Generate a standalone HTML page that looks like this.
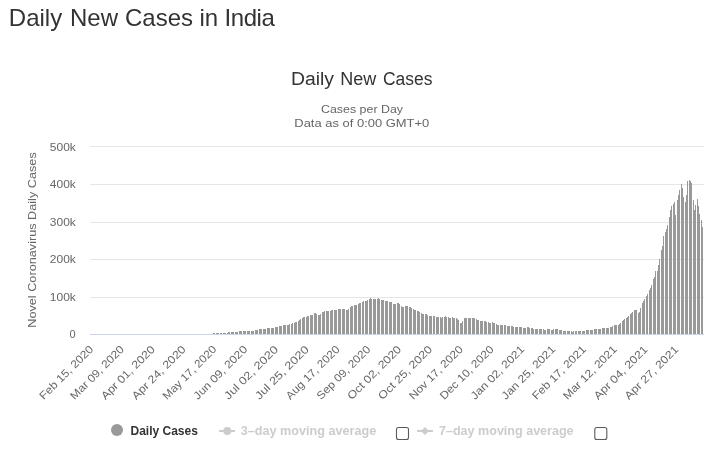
<!DOCTYPE html>
<html><head><meta charset="utf-8"><style>
html,body{margin:0;padding:0;background:#fff;width:716px;height:458px;overflow:hidden}
svg{position:absolute;left:0;top:0;will-change:transform;font-family:"Liberation Sans",sans-serif}
</style></head><body>
<svg width="716" height="458" viewBox="0 0 716 458">
<rect width="716" height="458" fill="#fff"/>
<text y="26" font-size="24" fill="#333"><tspan x="8.8">Daily</tspan><tspan x="70">New</tspan><tspan x="125">Cases</tspan><tspan x="199.4">in</tspan><tspan x="224.6" letter-spacing="-0.45">India</tspan></text>
<g font-size="18" fill="#333"><text x="291" y="84.6" textLength="43" lengthAdjust="spacingAndGlyphs">Daily</text><text x="340.2" y="84.6" textLength="36" lengthAdjust="spacingAndGlyphs">New</text><text x="383" y="84.6" textLength="49.5" lengthAdjust="spacingAndGlyphs">Cases</text></g>
<text x="321" y="112.8" font-size="11.5" fill="#666" textLength="82" lengthAdjust="spacingAndGlyphs">Cases per Day</text>
<text x="294.3" y="127.3" font-size="11.5" fill="#666" textLength="135" lengthAdjust="spacingAndGlyphs">Data as of 0:00 GMT+0</text>
<rect x="90" y="146" width="614" height="1" fill="#e6e6e6"/><rect x="90" y="184" width="614" height="1" fill="#e6e6e6"/><rect x="90" y="222" width="614" height="1" fill="#e6e6e6"/><rect x="90" y="259" width="614" height="1" fill="#e6e6e6"/><rect x="90" y="297" width="614" height="1" fill="#e6e6e6"/>
<g font-size="11" fill="#666"><text x="75.8" y="151" text-anchor="end" textLength="26" lengthAdjust="spacingAndGlyphs">500k</text><text x="75.8" y="188" text-anchor="end" textLength="26" lengthAdjust="spacingAndGlyphs">400k</text><text x="75.8" y="226" text-anchor="end" textLength="26" lengthAdjust="spacingAndGlyphs">300k</text><text x="75.8" y="263" text-anchor="end" textLength="26" lengthAdjust="spacingAndGlyphs">200k</text><text x="75.8" y="301" text-anchor="end" textLength="26" lengthAdjust="spacingAndGlyphs">100k</text><text x="75.6" y="338" text-anchor="end">0</text></g>
<text x="36.4" y="240" transform="rotate(-90 36.4 240)" text-anchor="middle" font-size="11.5" fill="#666" textLength="175.5" lengthAdjust="spacingAndGlyphs">Novel Coronavirus Daily Cases</text>
<path d="M213.5 334V333 M214.5 334V333 M216.5 334V333 M217.5 334V333 M218.5 334V333 M220.5 334V333 M221.5 334V333 M223.5 334V333 M224.5 334V333 M225.5 334V333 M227.5 334V333 M228.5 334V332 M229.5 334V332 M231.5 334V332 M232.5 334V332 M233.5 334V332 M235.5 334V332 M236.5 334V332 M237.5 334V332 M239.5 334V331 M240.5 334V331 M241.5 334V331 M243.5 334V331 M244.5 334V331 M245.5 334V331 M247.5 334V331 M248.5 334V331 M249.5 334V331 M251.5 334V331 M252.5 334V331 M253.5 334V331 M255.5 334V330 M256.5 334V330 M257.5 334V330 M259.5 334V329 M260.5 334V329 M261.5 334V329 M263.5 334V329 M264.5 334V329 M265.5 334V329 M267.5 334V328 M268.5 334V328 M269.5 334V328 M271.5 334V328 M272.5 334V328 M273.5 334V328 M275.5 334V327 M276.5 334V327 M277.5 334V327 M279.5 334V326 M280.5 334V326 M281.5 334V326 M283.5 334V325 M284.5 334V325 M285.5 334V325 M287.5 334V325 M288.5 334V325 M289.5 334V324 M291.5 334V324 M292.5 334V323 M294.5 334V323 M295.5 334V322 M296.5 334V322 M298.5 334V321 M299.5 334V320 M300.5 334V319 M302.5 334V318 M303.5 334V317 M304.5 334V317 M306.5 334V317 M307.5 334V316 M308.5 334V316 M310.5 334V315 M311.5 334V315 M312.5 334V315 M314.5 334V313 M315.5 334V313 M316.5 334V314 M318.5 334V315 M319.5 334V315 M320.5 334V314 M322.5 334V312 M323.5 334V312 M324.5 334V311 M326.5 334V311 M327.5 334V311 M328.5 334V311 M330.5 334V311 M331.5 334V310 M332.5 334V310 M334.5 334V310 M335.5 334V310 M336.5 334V310 M338.5 334V309 M339.5 334V309 M340.5 334V309 M342.5 334V309 M343.5 334V309 M344.5 334V309 M346.5 334V310 M347.5 334V310 M348.5 334V309 M350.5 334V307 M351.5 334V306 M352.5 334V306 M354.5 334V305 M355.5 334V305 M356.5 334V305 M358.5 334V304 M359.5 334V303 M360.5 334V303 M362.5 334V302 M363.5 334V301 M365.5 334V301 M366.5 334V301 M367.5 334V300 M369.5 334V299 M370.5 334V298 M371.5 334V299 M373.5 334V299 M374.5 334V299 M375.5 334V299 M377.5 334V299 M378.5 334V298 M379.5 334V299 M381.5 334V300 M382.5 334V300 M383.5 334V300 M385.5 334V301 M386.5 334V301 M387.5 334V301 M389.5 334V302 M390.5 334V302 M391.5 334V302 M393.5 334V304 M394.5 334V304 M395.5 334V304 M397.5 334V303 M398.5 334V303 M399.5 334V304 M401.5 334V306 M402.5 334V307 M403.5 334V307 M405.5 334V306 M406.5 334V306 M407.5 334V306 M409.5 334V307 M410.5 334V307 M411.5 334V308 M413.5 334V309 M414.5 334V310 M415.5 334V310 M417.5 334V311 M418.5 334V311 M419.5 334V312 M421.5 334V313 M422.5 334V314 M423.5 334V314 M425.5 334V314 M426.5 334V314 M427.5 334V315 M429.5 334V316 M430.5 334V316 M431.5 334V316 M433.5 334V316 M434.5 334V316 M436.5 334V317 M437.5 334V317 M438.5 334V317 M440.5 334V317 M441.5 334V318 M442.5 334V317 M444.5 334V317 M445.5 334V316 M446.5 334V317 M448.5 334V317 M449.5 334V318 M450.5 334V318 M452.5 334V317 M453.5 334V318 M454.5 334V318 M456.5 334V318 M457.5 334V319 M458.5 334V320 M460.5 334V323 M461.5 334V323 M462.5 334V321 M464.5 334V318 M465.5 334V318 M466.5 334V318 M468.5 334V318 M469.5 334V318 M470.5 334V318 M472.5 334V318 M473.5 334V318 M474.5 334V318 M476.5 334V319 M477.5 334V320 M478.5 334V320 M480.5 334V321 M481.5 334V321 M482.5 334V321 M484.5 334V321 M485.5 334V321 M486.5 334V322 M488.5 334V322 M489.5 334V323 M490.5 334V323 M492.5 334V322 M493.5 334V323 M494.5 334V323 M496.5 334V324 M497.5 334V325 M498.5 334V325 M500.5 334V325 M501.5 334V325 M502.5 334V325 M504.5 334V325 M505.5 334V325 M507.5 334V326 M508.5 334V326 M509.5 334V326 M511.5 334V326 M512.5 334V326 M513.5 334V327 M515.5 334V327 M516.5 334V327 M517.5 334V327 M519.5 334V327 M520.5 334V327 M521.5 334V327 M523.5 334V328 M524.5 334V328 M525.5 334V328 M527.5 334V327 M528.5 334V327 M529.5 334V328 M531.5 334V328 M532.5 334V328 M533.5 334V329 M535.5 334V329 M536.5 334V329 M537.5 334V329 M539.5 334V329 M540.5 334V329 M541.5 334V329 M543.5 334V329 M544.5 334V330 M545.5 334V330 M547.5 334V329 M548.5 334V329 M549.5 334V329 M551.5 334V330 M552.5 334V330 M553.5 334V329 M555.5 334V329 M556.5 334V329 M557.5 334V329 M559.5 334V330 M560.5 334V330 M561.5 334V330 M563.5 334V331 M564.5 334V331 M565.5 334V331 M567.5 334V331 M568.5 334V331 M569.5 334V331 M571.5 334V331 M572.5 334V332 M573.5 334V331 M575.5 334V331 M576.5 334V331 M578.5 334V331 M579.5 334V331 M580.5 334V331 M582.5 334V331 M583.5 334V331 M584.5 334V331 M586.5 334V330 M587.5 334V330 M588.5 334V330 M590.5 334V330 M591.5 334V330 M592.5 334V330 M594.5 334V329 M595.5 334V329 M596.5 334V329 M598.5 334V329 M599.5 334V329 M600.5 334V329 M602.5 334V328 M603.5 334V328 M604.5 334V328 M606.5 334V328 M607.5 334V328 M608.5 334V328 M610.5 334V327 M611.5 334V327 M612.5 334V326 M614.5 334V325 M615.5 334V325 M616.5 334V325 M618.5 334V325 M619.5 334V324 M620.5 334V323 M622.5 334V321 M623.5 334V320 M624.5 334V319 M626.5 334V318 M627.5 334V317 M628.5 334V316 M630.5 334V314 M631.5 334V313 M632.5 334V312 M634.5 334V310 M635.5 334V310 M636.5 334V310 M638.5 334V313 M639.5 334V312 M640.5 334V308 M642.5 334V303 M643.5 334V301 M644.5 334V299 M646.5 334V296 M647.5 334V294 M649.5 334V290 M650.5 334V288 M651.5 334V285 M653.5 334V279 M654.5 334V277 M655.5 334V271 M657.5 334V271 M658.5 334V265 M659.5 334V259 M661.5 334V250 M662.5 334V246 M663.5 334V236 M665.5 334V232 M666.5 334V229 M667.5 334V225 M669.5 334V217 M670.5 334V210 M671.5 334V206 M673.5 334V204 M674.5 334V202 M675.5 334V215 M677.5 334V200 M678.5 334V195 M679.5 334V190 M681.5 334V184 M682.5 334V188 M683.5 334V197 M685.5 334V202 M686.5 334V195 M687.5 334V181 M689.5 334V180 M690.5 334V181 M691.5 334V183 M693.5 334V200 M694.5 334V210 M695.5 334V205 M697.5 334V199 M698.5 334V206 M699.5 334V214 M701.5 334V220 M702.5 334V227" stroke="#999" stroke-width="1" fill="none" shape-rendering="crispEdges"/>
<rect x="90" y="334" width="614" height="1" fill="#ccd6eb"/>
<g font-size="11" fill="#666"><text x="94.00" y="350.0" transform="rotate(-45 94.00 350.0)" text-anchor="end" textLength="71" lengthAdjust="spacingAndGlyphs">Feb 15, 2020</text><text x="124.80" y="350.0" transform="rotate(-45 124.80 350.0)" text-anchor="end" textLength="71" lengthAdjust="spacingAndGlyphs">Mar 09, 2020</text><text x="155.60" y="350.0" transform="rotate(-45 155.60 350.0)" text-anchor="end" textLength="71" lengthAdjust="spacingAndGlyphs">Apr 01, 2020</text><text x="186.40" y="350.0" transform="rotate(-45 186.40 350.0)" text-anchor="end" textLength="71" lengthAdjust="spacingAndGlyphs">Apr 24, 2020</text><text x="217.20" y="350.0" transform="rotate(-45 217.20 350.0)" text-anchor="end" textLength="71" lengthAdjust="spacingAndGlyphs">May 17, 2020</text><text x="248.00" y="350.0" transform="rotate(-45 248.00 350.0)" text-anchor="end" textLength="71" lengthAdjust="spacingAndGlyphs">Jun 09, 2020</text><text x="278.80" y="350.0" transform="rotate(-45 278.80 350.0)" text-anchor="end" textLength="71" lengthAdjust="spacingAndGlyphs">Jul 02, 2020</text><text x="309.60" y="350.0" transform="rotate(-45 309.60 350.0)" text-anchor="end" textLength="71" lengthAdjust="spacingAndGlyphs">Jul 25, 2020</text><text x="340.40" y="350.0" transform="rotate(-45 340.40 350.0)" text-anchor="end" textLength="71" lengthAdjust="spacingAndGlyphs">Aug 17, 2020</text><text x="371.20" y="350.0" transform="rotate(-45 371.20 350.0)" text-anchor="end" textLength="71" lengthAdjust="spacingAndGlyphs">Sep 09, 2020</text><text x="402.00" y="350.0" transform="rotate(-45 402.00 350.0)" text-anchor="end" textLength="71" lengthAdjust="spacingAndGlyphs">Oct 02, 2020</text><text x="432.80" y="350.0" transform="rotate(-45 432.80 350.0)" text-anchor="end" textLength="71" lengthAdjust="spacingAndGlyphs">Oct 25, 2020</text><text x="463.60" y="350.0" transform="rotate(-45 463.60 350.0)" text-anchor="end" textLength="71" lengthAdjust="spacingAndGlyphs">Nov 17, 2020</text><text x="494.40" y="350.0" transform="rotate(-45 494.40 350.0)" text-anchor="end" textLength="71" lengthAdjust="spacingAndGlyphs">Dec 10, 2020</text><text x="525.20" y="350.0" transform="rotate(-45 525.20 350.0)" text-anchor="end" textLength="71" lengthAdjust="spacingAndGlyphs">Jan 02, 2021</text><text x="556.00" y="350.0" transform="rotate(-45 556.00 350.0)" text-anchor="end" textLength="71" lengthAdjust="spacingAndGlyphs">Jan 25, 2021</text><text x="586.80" y="350.0" transform="rotate(-45 586.80 350.0)" text-anchor="end" textLength="71" lengthAdjust="spacingAndGlyphs">Feb 17, 2021</text><text x="617.60" y="350.0" transform="rotate(-45 617.60 350.0)" text-anchor="end" textLength="71" lengthAdjust="spacingAndGlyphs">Mar 12, 2021</text><text x="648.40" y="350.0" transform="rotate(-45 648.40 350.0)" text-anchor="end" textLength="71" lengthAdjust="spacingAndGlyphs">Apr 04, 2021</text><text x="679.20" y="350.0" transform="rotate(-45 679.20 350.0)" text-anchor="end" textLength="71" lengthAdjust="spacingAndGlyphs">Apr 27, 2021</text></g>
<circle cx="117" cy="430" r="6" fill="#999"/>
<text x="130.5" y="435" font-size="12" font-weight="bold" fill="#333">Daily Cases</text>
<g fill="#ccc" stroke="#ccc">
<path d="M219 431H235" stroke-width="2" fill="none"/><circle cx="227.3" cy="431" r="4" stroke="none"/>
<path d="M417 431H433" stroke-width="2" fill="none"/><path d="M425 427L429 431L425 435L421 431Z" stroke="none"/>
</g>
<text x="240.8" y="435.3" font-size="12" font-weight="bold" fill="#ccc" textLength="135.4" lengthAdjust="spacingAndGlyphs">3&#8211;day moving average</text>
<text x="439" y="435.3" font-size="12" font-weight="bold" fill="#ccc" textLength="134.6" lengthAdjust="spacingAndGlyphs">7&#8211;day moving average</text>
<rect x="396.5" y="427.5" width="12" height="12" rx="2" fill="#fff" stroke="#5a5a5a" stroke-width="1.1"/>
<rect x="594.8" y="427.5" width="12" height="12" rx="2" fill="#fff" stroke="#5a5a5a" stroke-width="1.1"/>
</svg>
</body></html>
